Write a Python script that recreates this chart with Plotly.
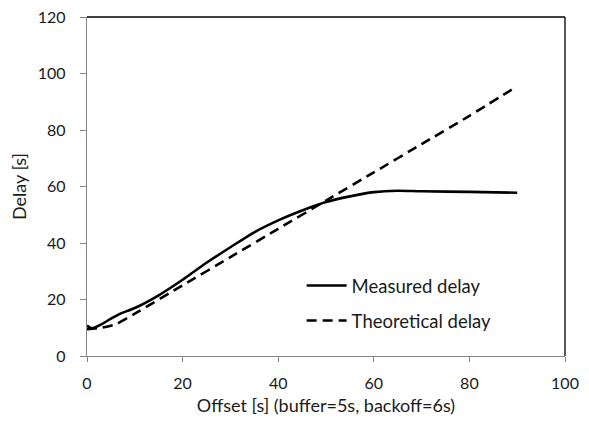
import plotly.graph_objects as go

# Measured delay
meas_x = [0, 1, 3, 5, 7, 10, 15, 20, 25, 30, 35, 40, 45, 50, 55, 60, 65, 70, 80, 90]
meas_y = [10.8, 9.8, 11.2, 13.2, 15.0, 17.0, 21.5, 27.0, 33.0, 38.5, 43.8, 48.0, 51.5, 54.5, 56.5, 58.0, 58.5, 58.3, 58.1, 57.8]

# Theoretical delay
theo_x = [0, 3, 6, 10, 20, 30, 40, 50, 60, 70, 80, 90]
theo_y = [9.5, 10.0, 11.2, 15.0, 25.0, 35.0, 45.0, 55.0, 65.0, 75.0, 85.0, 95.5]

x_ticks = [0, 20, 40, 60, 80, 100]
y_ticks = [0, 20, 40, 60, 80, 100, 120]

FONT = "Lato, Carlito, Calibri, sans-serif"
GRAY = "#868686"

fig = go.Figure()
fig.add_trace(go.Scatter(x=meas_x, y=meas_y, mode="lines", name="Measured delay",
                         legendgroup="m",
                         line=dict(color="black", width=2.6, shape="spline", smoothing=0.8)))
fig.add_trace(go.Scatter(x=theo_x, y=theo_y, mode="lines", name="Theoretical delay",
                         legendgroup="t",
                         line=dict(color="black", width=2.6, dash="10px,6px", shape="spline", smoothing=0.5)))

fig.update_layout(
    width=581, height=422,
    margin=dict(l=79, r=24, t=9, b=74, autoexpand=False),
    paper_bgcolor="white", plot_bgcolor="white",
    font=dict(family=FONT, size=18, color="#1a1a1a"),
    showlegend=True,
    legend=dict(x=0.449, y=0.155, xanchor="left", yanchor="middle",
                bgcolor="rgba(0,0,0,0)", font=dict(size=18.5), tracegroupgap=8,
                traceorder="grouped", itemwidth=40),
    xaxis=dict(range=[0, 100], tickvals=x_ticks, showgrid=False, zeroline=False,
               automargin=False, ticklabeloverflow="allow",
               showline=True, linecolor=GRAY, linewidth=1.3,
               ticks="outside", ticklen=5, tickcolor=GRAY, tickwidth=1.3,
               ticklabelstandoff=8, tickfont=dict(size=16),
               title=dict(text="Offset [s] (buffer=5s, backoff=6s)", font=dict(size=18), standoff=8)),
    yaxis=dict(range=[0, 120], tickvals=y_ticks, showgrid=False, zeroline=False,
               automargin=False, ticklabeloverflow="allow",
               showline=True, linecolor=GRAY, linewidth=1.3,
               ticks="outside", ticklen=6, tickcolor=GRAY, tickwidth=1.3,
               ticklabelstandoff=11, tickfont=dict(size=16),
               title=dict(text="Delay [s]", font=dict(size=18), standoff=8)),
)

# black top and right border of plot area
fig.add_shape(type="line", xref="x domain", yref="y domain", x0=0, x1=1, y0=1, y1=1,
              line=dict(color="black", width=1.3))
fig.add_shape(type="line", xref="x domain", yref="y domain", x0=1, x1=1, y0=0, y1=1,
              line=dict(color="black", width=1.3))

fig.write_html("out.html")
